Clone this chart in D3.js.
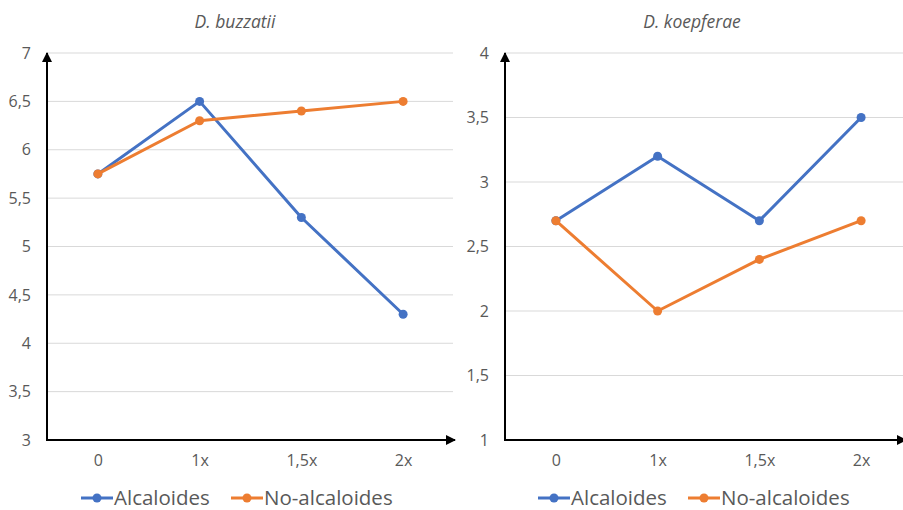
<!DOCTYPE html>
<html><head><meta charset="utf-8">
<script src="https://cdn.jsdelivr.net/npm/d3@7"></script>
<style>body{margin:0;background:#fff}svg{display:block}text{font-family:"Open Sans",sans-serif}</style>
</head><body>
<svg id="c" width="903" height="510"></svg>
<script>
const categories = ["0", "1x", "1,5x", "2x"];
const seriesNames = ["Alcaloides", "No-alcaloides"];
const buzzatiiAlcaloides = [5.75, 6.5, 5.3, 4.3];
const buzzatiiNoAlcaloides = [5.75, 6.3, 6.4, 6.5];
const koepferaeAlcaloides = [2.7, 3.2, 2.7, 3.5];
const koepferaeNoAlcaloides = [2.7, 2.0, 2.4, 2.7];
const buzzatiiTicks = [3, 3.5, 4, 4.5, 5, 5.5, 6, 6.5, 7];
const koepferaeTicks = [1, 1.5, 2, 2.5, 3, 3.5, 4];
const titles = ["D. buzzatii", "D. koepferae"];
const colors = ["#4472C4", "#ED7D31"];

const svg = d3.select("#c");
const defs = svg.append("defs");
defs.append("marker").attr("id","arr").attr("viewBox","0 0 10 10").attr("refX",9).attr("refY",5)
  .attr("markerWidth",5).attr("markerHeight",5).attr("markerUnits","strokeWidth").attr("orient","auto")
  .append("path").attr("d","M0,0L10,5L0,10Z").attr("fill","#000");

function drawChart(cfg){
  const g = svg.append("g");
  const x = d3.scalePoint().domain(categories).range([cfg.x0, cfg.x1]).padding(0.5);
  const y = d3.scaleLinear().domain([cfg.ticks[0], cfg.ticks[cfg.ticks.length-1]]).range([440, 53]);
  g.selectAll("line.grid").data(cfg.ticks.slice(1)).join("line")
    .attr("x1", cfg.x0).attr("x2", cfg.gx1).attr("y1", d=>y(d)).attr("y2", d=>y(d))
    .attr("stroke","#d9d9d9").attr("stroke-width",1);
  const ya = d3.axisLeft(y).tickValues(cfg.ticks).tickSize(0).tickPadding(0)
    .tickFormat(d=>String(d).replace(".",","));
  const yg = g.append("g").attr("transform",`translate(${cfg.x0 - 16},0)`).call(ya);
  yg.select(".domain").remove();
  yg.selectAll("text").attr("fill","#595959").attr("font-size","16px");
  const xa = d3.axisBottom(x).tickSize(0).tickPadding(0);
  const xg = g.append("g").attr("transform",`translate(0,453)`).call(xa);
  xg.select(".domain").remove();
  xg.selectAll("text").attr("fill","#595959").attr("font-size","16px").attr("dy","0.8em");
  g.append("line").attr("x1",cfg.x0).attr("x2",cfg.x0).attr("y1",441).attr("y2",53)
    .attr("stroke","#000").attr("stroke-width",2).attr("marker-end","url(#arr)");
  g.append("line").attr("x1",cfg.x0-1).attr("x2",cfg.ax1).attr("y1",440).attr("y2",440)
    .attr("stroke","#000").attr("stroke-width",2).attr("marker-end","url(#arr)");
  cfg.series.forEach((vals,i)=>{
    const line = d3.line().x((d,j)=>x(categories[j])).y(d=>y(d));
    g.append("path").datum(vals).attr("d",line).attr("fill","none")
      .attr("stroke",colors[i]).attr("stroke-width",3).attr("stroke-linejoin","round");
    g.selectAll(null).data(vals).join("circle")
      .attr("cx",(d,j)=>x(categories[j])).attr("cy",d=>y(d)).attr("r",4.5).attr("fill",colors[i]);
  });
  g.append("text").attr("x",cfg.tx).attr("y",28).attr("text-anchor","middle")
    .attr("font-style","italic").attr("font-size","17.5px").attr("fill","#595959").text(cfg.title);
  cfg.legend.forEach((lx,i)=>{
    g.append("line").attr("x1",lx).attr("x2",lx+32).attr("y1",498).attr("y2",498)
      .attr("stroke",colors[i]).attr("stroke-width",3);
    g.append("circle").attr("cx",lx+16).attr("cy",498).attr("r",4.5).attr("fill",colors[i]);
    g.append("text").attr("x",lx+33).attr("y",498).attr("dy","0.35em").attr("font-size","20.5px")
      .attr("fill","#595959").text(seriesNames[i]);
  });
}

drawChart({x0:47, x1:454, gx1:453, ax1:455, ticks:buzzatiiTicks, series:[buzzatiiAlcaloides,buzzatiiNoAlcaloides],
  title:titles[0], tx:235, legend:[81,231]});
drawChart({x0:505, x1:912, gx1:903, ax1:906, ticks:koepferaeTicks, series:[koepferaeAlcaloides,koepferaeNoAlcaloides],
  title:titles[1], tx:692, legend:[538,688]});
</script>
</body></html>
